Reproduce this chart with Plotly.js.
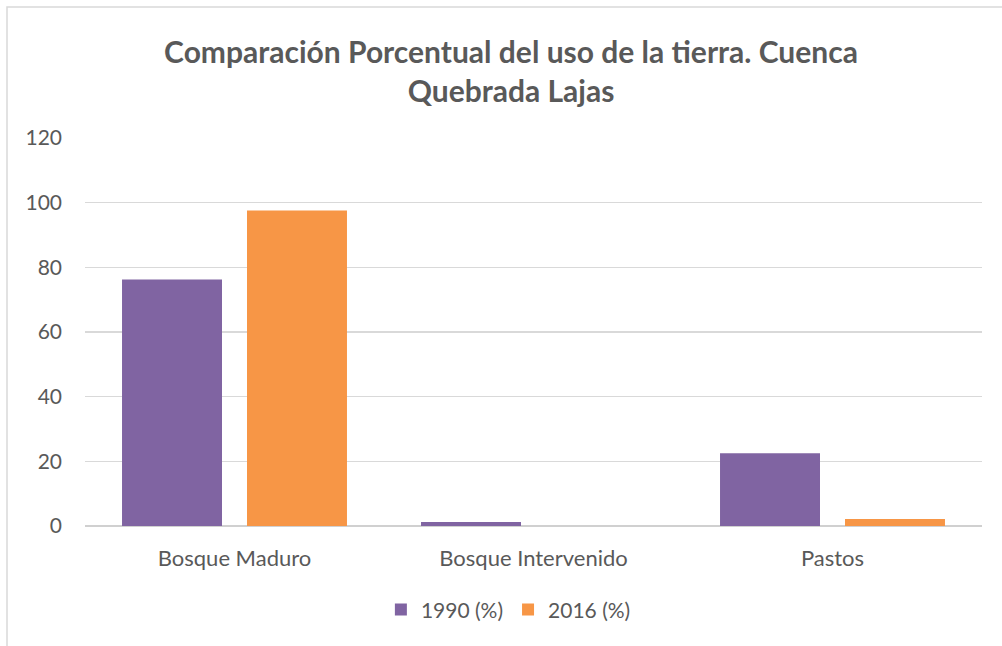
<!DOCTYPE html>
<html>
<head>
<meta charset="utf-8">
<script src="https://cdn.plot.ly/plotly-3.0.1.min.js"></script>
<style>
  html, body { margin: 0; padding: 0; background: #ffffff; }
  #chart { width: 1002px; height: 646px; }
</style>
</head>
<body>
<div id="chart"></div>
<script>
const categories = ["Bosque Maduro", "Bosque Intervenido", "Pastos"];
const values1990 = [76.2, 1.2, 22.5];
const values2016 = [97.6, 0, 2.2];
const seriesNames = ["1990 (%)", "2016 (%)"];
const yTicks = [0, 20, 40, 60, 80, 100, 120];

const FONT = "Lato, 'Open Sans', sans-serif";
const TXT = "#595959";

const traces = [
  { type: "bar", name: seriesNames[0], x: categories, y: values1990,
    marker: { color: "#8064A2" }, hoverinfo: "x+y" },
  { type: "bar", name: seriesNames[1], x: categories, y: values2016,
    marker: { color: "#F79646" }, hoverinfo: "x+y" }
];

const layout = {
  width: 1002, height: 646,
  paper_bgcolor: "#ffffff", plot_bgcolor: "#ffffff",
  margin: { l: 85, r: 20, t: 138, b: 120, pad: 0 },
  font: { family: FONT, color: TXT, size: 20 },
  title: {
    text: "<b>Comparación Porcentual del uso de la tierra. Cuenca<br>Quebrada Lajas</b>",
    font: { family: FONT, size: 30, color: TXT },
    x: 0.51, xanchor: "center", xref: "container",
    y: 1 - 63 / 646, yanchor: "middle", yref: "container"
  },
  barmode: "group",
  bargap: 0.164,
  bargroupgap: 0.2,
  xaxis: {
    type: "category",
    showgrid: false, showline: false, zeroline: false,
    ticks: "", ticklabelstandoff: 17,
    tickfont: { family: FONT, size: 22, color: TXT }
  },
  yaxis: {
    range: [0, 120], tickvals: yTicks, ticktext: yTicks.map(String),
    showgrid: true, gridcolor: "#D9D9D9", gridwidth: 1.3,
    zeroline: true, zerolinecolor: "#D0D0D0", zerolinewidth: 2,
    showline: false, ticks: "", ticklabelstandoff: 22,
    tickfont: { family: FONT, size: 21, color: TXT },
    fixedrange: true
  },
  showlegend: true,
  legend: {
    orientation: "h", x: 0.472, xanchor: "center",
    y: -0.216, yanchor: "middle",
    font: { family: FONT, size: 21, color: TXT },
    itemwidth: 30, traceorder: "normal"
  },
  shapes: [
    { type: "rect", xref: "paper", yref: "paper",
      x0: -78 / 897, x1: 1.05, y0: -1, y1: (526 - 7) / 388,
      line: { color: "#D9D9D9", width: 1.5 }, fillcolor: "rgba(0,0,0,0)", layer: "below" }
  ]
};

Plotly.newPlot("chart", traces, layout, { displayModeBar: false, staticPlot: true });
</script>
</body>
</html>
